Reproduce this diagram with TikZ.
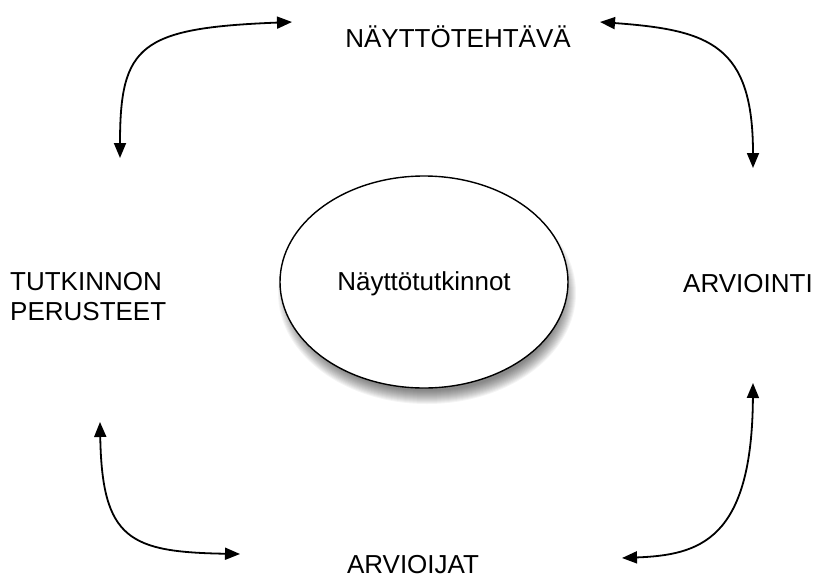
\documentclass[tikz,border=0pt]{standalone}
\usepackage{fontspec}
\setmainfont{Liberation Sans}
\usetikzlibrary{arrows.meta,shapes.geometric}
\begin{document}
\begin{tikzpicture}[x=1pt,y=-1pt,
  lbl/.style={font=\fontsize{26}{30}\selectfont, inner sep=0pt},
  conn/.style={line width=1.8pt, {Triangle[length=15pt,width=12pt]}-{Triangle[length=15pt,width=12pt]}}]
\useasboundingbox (0,0) rectangle (816,579);
% shadow
\foreach \i in {0,...,13}{
  \fill[black, opacity=0.045] (427,293) ellipse [x radius={136+\i}, y radius={98+\i}];
}
\node[ellipse, draw=black, line width=1.4pt, fill=white, minimum width=288pt, minimum height=212pt, inner sep=0pt] (c) at (424,282) {};
\node[lbl, anchor=base] (ct) at (424,290) {Näyttötutkinnot};
\node[lbl, anchor=base] (top) at (458,47) {NÄYTTÖTEHTÄVÄ};
\node[lbl, anchor=base] (right) at (748,292) {ARVIOINTI};
\node[lbl, anchor=north west, align=left] (left) at (10,272) {TUTKINNON\\PERUSTEET};
\node[lbl, anchor=base] (bottom) at (413,573) {ARVIOIJAT};
\coordinate (a1) at (292,22);
\coordinate (a2) at (120,158);
\coordinate (b1) at (600,22);
\coordinate (b2) at (753,168);
\coordinate (c1) at (100,422);
\coordinate (c2) at (240,554);
\coordinate (d1) at (753,383);
\coordinate (d2) at (622,558);
\draw[conn] (a1) .. controls (140,28) and (120,45) .. (a2);
\draw[conn] (b1) .. controls (710,30) and (753,45) .. (b2);
\draw[conn] (c1) .. controls (102,540) and (130,552) .. (c2);
\draw[conn] (d1) .. controls (752,540) and (700,555) .. (d2);
\end{tikzpicture}
\end{document}
